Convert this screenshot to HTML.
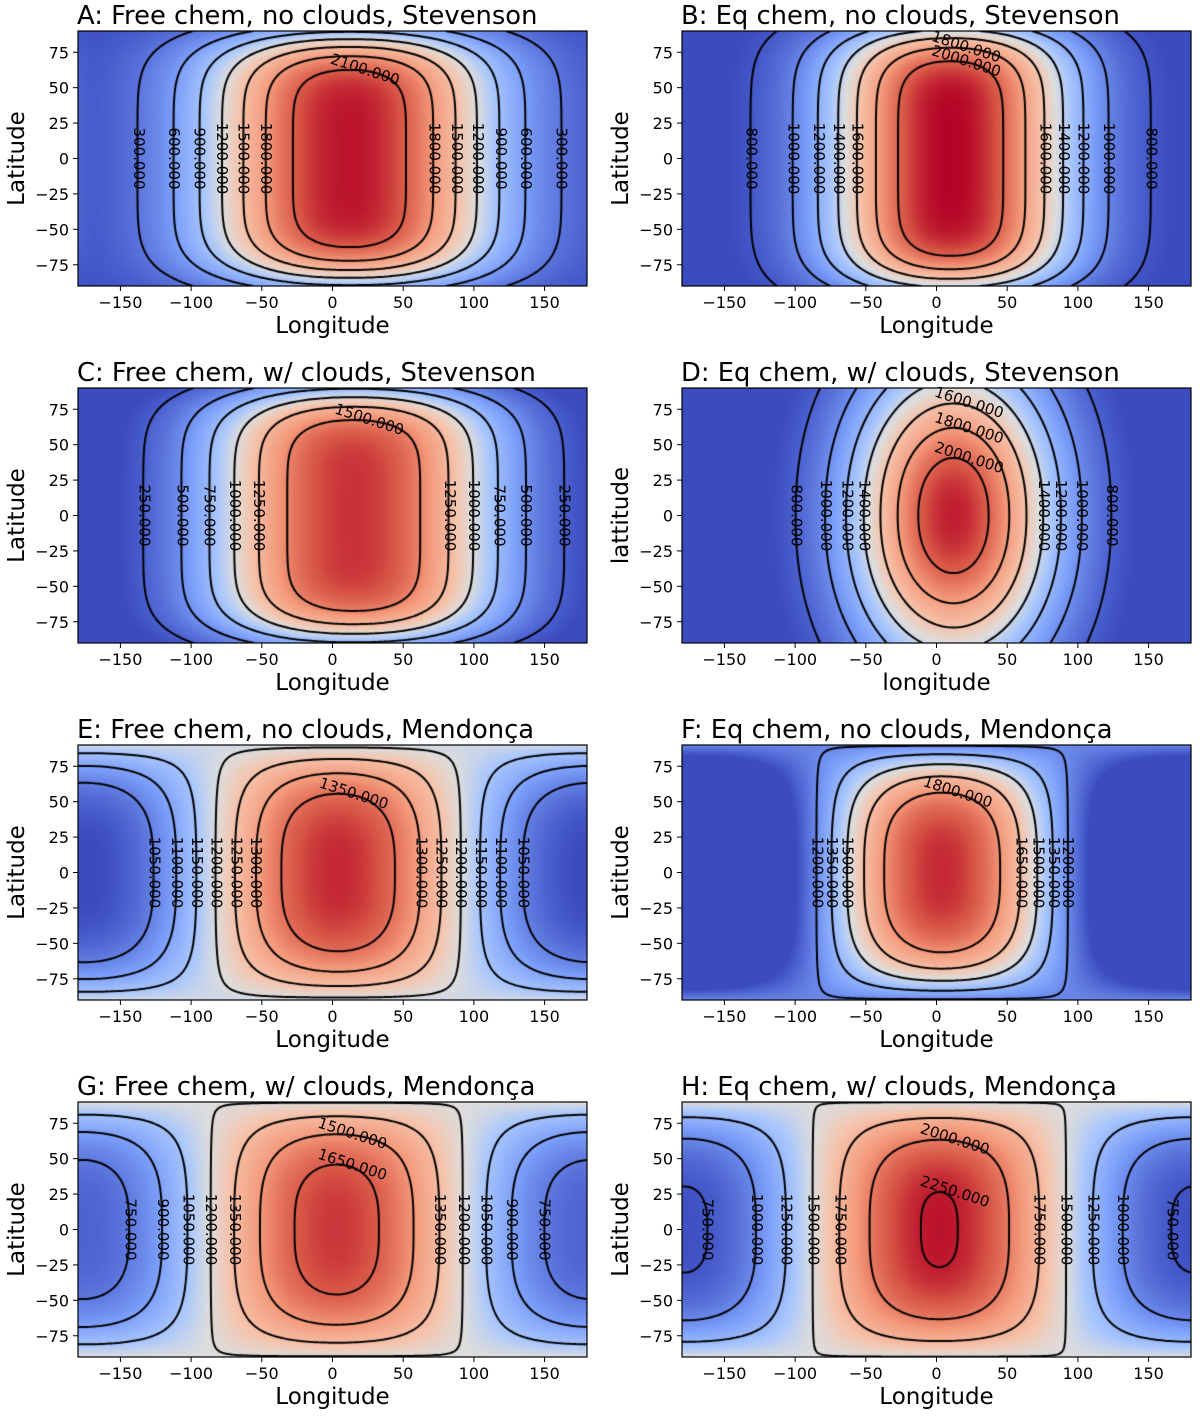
<!DOCTYPE html>
<html><head><meta charset="utf-8">
<style>
body{margin:0;background:#fff;width:1200px;height:1416px;position:relative;overflow:hidden;font-family:"DejaVu Sans","Liberation Sans",sans-serif}
canvas{position:absolute}
svg{position:absolute;left:0;top:0}
</style></head><body>
<div id="wrap"></div>
<svg id="ov" width="1200" height="1416"></svg>
<script>
const titles=["A: Free chem, no clouds, Stevenson","B: Eq chem, no clouds, Stevenson","C: Free chem, w/ clouds, Stevenson","D: Eq chem, w/ clouds, Stevenson","E: Free chem, no clouds, Mendonça","F: Eq chem, no clouds, Mendonça","G: Free chem, w/ clouds, Mendonça","H: Eq chem, w/ clouds, Mendonça"];
const xLabels=["Longitude","Longitude","Longitude","longitude","Longitude","Longitude","Longitude","Longitude"];
const yLabels=["Latitude","Latitude","Latitude","lattitude","Latitude","Latitude","Latitude","Latitude"];
const kind=["S","S","S","S","M","M","M","M"];
const hotOffset=[12,10,15,12,4,4,3,2];
const dayT=[2350,2200,1750,2150,1400,2000,1720,2270];
const nightT=[0,700,0,600,1188,1185,1192,1495];
const lonScale=[108,90,110,78,0,0,0,0];
const lonPow=[2.2,2.2,2.2,2,1,1,1,1];
const latScale=[90,95,92,115,90,90,90,90];
const latPow=[6,6,6,2.2,3,3,3,3];
const cmin=[0,750,150,700,980,1000,580,700];
const cmax=[2400,2200,1850,2200,1420,2050,1800,2300];
const levels=[[300,600,900,1200,1500,1800,2100],[800,1000,1200,1400,1600,1800,2000],[250,500,750,1000,1250,1500],[800,1000,1200,1400,1600,1800,2000],[1050,1100,1150,1200,1250,1300,1350],[1200,1350,1500,1650,1800],[750,900,1050,1200,1350,1500,1650],[750,1000,1250,1500,1750,2000,2250]];
const xTicks=[-150,-100,-50,0,50,100,150];
const yTicks=[75,50,25,0,-25,-50,-75];

const colLeft=[78,682], rowTop=[31,388,745,1102], W=509, H=255;
const stops=[[0,59,76,192],[0.25,124,159,249],[0.4,170,199,253],[0.5,221,221,221],[0.6,245,196,173],[0.75,244,154,123],[0.9,214,82,68],[1,180,4,38]];
function cmap(t){t=Math.max(0,Math.min(1,t));for(let i=1;i<stops.length;i++){if(t<=stops[i][0]){const a=stops[i-1],b=stops[i],f=(t-a[0])/(b[0]-a[0]);return [a[1]+f*(b[1]-a[1]),a[2]+f*(b[2]-a[2]),a[3]+f*(b[3]-a[3])];}}return [180,4,38];}
function field(p,lon,lat){
  let d=lon-hotOffset[p]; d=((d+540)%360)-180;
  if(kind[p]==="S"){
    const r=Math.pow(Math.abs(d)/lonScale[p],lonPow[p])+Math.pow(Math.abs(lat)/latScale[p],latPow[p]);
    return nightT[p]+(dayT[p]-nightT[p])*Math.exp(-r);
  } else {
    const c=Math.cos(d*Math.PI/180), lp=1-Math.pow(Math.abs(lat)/latScale[p],latPow[p]);
    return nightT[p]+(dayT[p]-nightT[p])*c*lp;
  }
}
const svgNS="http://www.w3.org/2000/svg", ov=document.getElementById('ov'), wrap=document.getElementById('wrap');
function st(tag,attrs,txt){const e=document.createElementNS(svgNS,tag);for(const k in attrs)e.setAttribute(k,attrs[k]);if(txt!==undefined)e.textContent=txt;ov.appendChild(e);return e;}
for(let p=0;p<8;p++){
  const L=colLeft[p%2], T=rowTop[Math.floor(p/2)];
  const xs=lon=>L+(lon+180)/360*W, ys=lat=>T+(90-lat)/180*H;
  const cv=document.createElement('canvas');cv.width=W;cv.height=H;cv.style.left=L+'px';cv.style.top=T+'px';
  
  
  wrap.appendChild(cv);
  const ctx=cv.getContext('2d'),img=ctx.createImageData(W,H);
  for(let y=0;y<H;y++)for(let x=0;x<W;x++){
    const lon=-180+(x+0.5)/W*360, lat=90-(y+0.5)/H*180;
    const c=cmap((field(p,lon,lat)-cmin[p])/(cmax[p]-cmin[p]));const i=(y*W+x)*4;
    img.data[i]=c[0];img.data[i+1]=c[1];img.data[i+2]=c[2];img.data[i+3]=255;}
  ctx.putImageData(img,0,0);
  const s=3, nx=Math.ceil(W/s)+1, ny=Math.ceil(H/s)+1, g=[];
  for(let j=0;j<ny;j++){g[j]=[];for(let i=0;i<nx;i++){g[j][i]=field(p,-180+i*s/W*360,90-j*s/H*180);}}
  ctx.strokeStyle='#000';ctx.lineWidth=2;ctx.beginPath();
  for(const lv of levels[p]){
    for(let j=0;j<ny-1;j++)for(let i=0;i<nx-1;i++){
      const v=[g[j][i],g[j][i+1],g[j+1][i+1],g[j+1][i]], P=[[i,j],[i+1,j],[i+1,j+1],[i,j+1]], pts=[];
      for(let e=0;e<4;e++){const a=v[e],b=v[(e+1)%4];if((a<lv)!==(b<lv)){const f=(lv-a)/(b-a);const pa=P[e],pb=P[(e+1)%4];pts.push([(pa[0]+f*(pb[0]-pa[0]))*s,(pa[1]+f*(pb[1]-pa[1]))*s]);}}
      for(let k=0;k+1<pts.length;k+=2){ctx.moveTo(pts[k][0],pts[k][1]);ctx.lineTo(pts[k+1][0],pts[k+1][1]);}
    }
  }
  ctx.stroke();
  for(const lv of levels[p]){
    let prev=field(p,-180,0);
    for(let lon=-179;lon<=180;lon+=1){const cur=field(p,lon,0);
      if((prev<lv)!==(cur<lv)){
        let d=lon-hotOffset[p];
        const x=xs(lon), y=ys(0);
        if(Math.abs(d)>55){
          st('text',{x:x,y:y+5,'font-size':15,'text-anchor':'middle',transform:`rotate(90 ${x} ${y})`,fill:'#000',},lv.toFixed(3));
        } else if(d>0){
          let la=0;for(let lt=0;lt<=90;lt++){if(field(p,hotOffset[p],lt)<lv){la=lt;break;}}
          if(la>0){const tx=xs(hotOffset[p]+10),ty=ys(la)+5;st('text',{x:tx,y:ty,'font-size':15,'text-anchor':'middle',transform:`rotate(18 ${tx} ${ty})`,fill:'#000',},lv.toFixed(3));}
        }
      }
      prev=cur;}
  }
  st('rect',{x:L,y:T,width:W,height:H,fill:'none',stroke:'#000','stroke-width':1.2,});
  for(const tv of xTicks){const x=xs(tv);st('line',{x1:x,y1:T+H,x2:x,y2:T+H+5,stroke:'#000','stroke-width':1});
    st('text',{x:x,y:T+H+22,'font-size':16,'text-anchor':'middle',},tv<0?'\u2212'+(-tv):String(tv));}
  for(const tv of yTicks){const y=ys(tv);st('line',{x1:L-5,y1:y,x2:L,y2:y,stroke:'#000','stroke-width':1});
    st('text',{x:L-9,y:y+6,'font-size':16,'text-anchor':'end',},tv<0?'\u2212'+(-tv):String(tv));}
  st('text',{x:L+W/2,y:T+H+47,'font-size':23,'text-anchor':'middle',},xLabels[p]);
  const yx=L-54, yy=T+H/2;
  st('text',{x:yx,y:yy,'font-size':23,'text-anchor':'middle',transform:`rotate(-90 ${yx} ${yy})`,},yLabels[p]);
  st('text',{x:L-1,y:T-7,'font-size':25.8,},titles[p]);
}
</script>
</body></html>
